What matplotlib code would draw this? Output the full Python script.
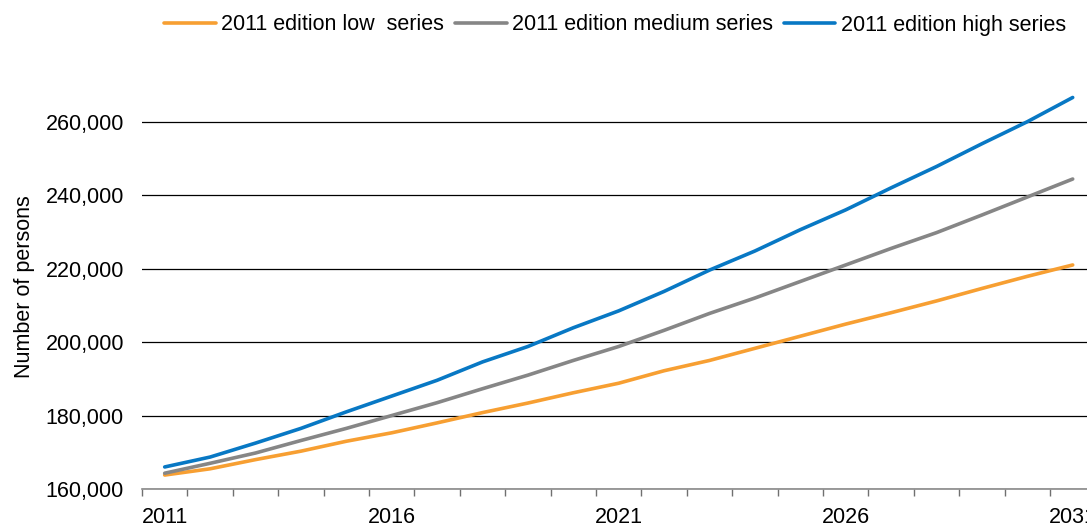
import matplotlib
matplotlib.use("Agg")
import matplotlib.pyplot as plt
from matplotlib.ticker import FuncFormatter, FixedLocator

plt.rcParams["font.family"] = ["Liberation Sans", "DejaVu Sans"]

# projection years and series (number of persons)
years = list(range(2011, 2032))
low_series = [163800, 165500, 168000, 170300, 173000, 175300, 178000, 180800,
              183400, 186200, 188800, 192200, 195000, 198300, 201600, 204900,
              208000, 211200, 214600, 217900, 221000]
medium_series = [164300, 167000, 169800, 173200, 176500, 180000, 183500, 187300,
                 191000, 195000, 198800, 203200, 207800, 212000, 216500, 221000,
                 225500, 229800, 234600, 239500, 244400]
high_series = [166000, 168700, 172500, 176500, 181000, 185300, 189600, 194600,
               198800, 203900, 208500, 213800, 219600, 224800, 230600, 236000,
               242000, 247800, 254000, 260000, 266600]
labels = ["2011 edition low  series", "2011 edition medium series",
          "2011 edition high series"]
colors = ["#F79F32", "#868686", "#0878C4"]
y_ticks = [160000, 180000, 200000, 220000, 240000, 260000]

W, H = 1087, 529
FS = 15.5
fig = plt.figure(figsize=(W / 100, H / 100), dpi=100)
# axes run a little past the right edge, as in the source chart
ax = fig.add_axes([142 / W, 40 / H, 953.4 / W, 404 / H])

x = list(range(len(years)))
for series, lab, col in zip([low_series, medium_series, high_series], labels, colors):
    ax.plot(x, series, color=col, lw=2.6, label=lab, solid_capstyle="round", zorder=3)

ax.set_xlim(-0.5, len(years) - 0.5)
ax.set_ylim(160000, 270000)

# y axis: gridlines only
ax.set_yticks(y_ticks)
ax.yaxis.set_major_formatter(FuncFormatter(lambda v, _: f"{int(v):,}"))
ax.yaxis.grid(True, color="black", lw=0.9, zorder=1)
ax.tick_params(axis="y", length=0, pad=13, labelsize=FS)
ax.set_ylabel("Number of persons", fontsize=FS)
ax.yaxis.set_label_coords(-0.112, 0.5)

# x axis: category axis, ticks between categories, label every 5 years
ax.set_xticks(x[::5])
ax.set_xticklabels([str(y) for y in years[::5]])
ax.xaxis.set_minor_locator(FixedLocator([i - 0.5 for i in range(len(years) + 1)]))
ax.tick_params(axis="x", which="major", length=0, pad=13, labelsize=FS)
ax.tick_params(axis="x", which="minor", length=5, width=1, color="#707070")

for s in ["top", "right", "left"]:
    ax.spines[s].set_visible(False)
ax.spines["bottom"].set_color("#8a8a8a")
ax.spines["bottom"].set_linewidth(1.2)
ax.spines["bottom"].set_zorder(2)
ax.set_axisbelow(True)

fig.legend(loc="center", bbox_to_anchor=(615 / W, 1 - 25 / H), ncol=3,
           frameon=False, fontsize=FS, handlelength=2.4, handletextpad=0.25,
           columnspacing=0.5)

fig.savefig("out.png", dpi=100)
